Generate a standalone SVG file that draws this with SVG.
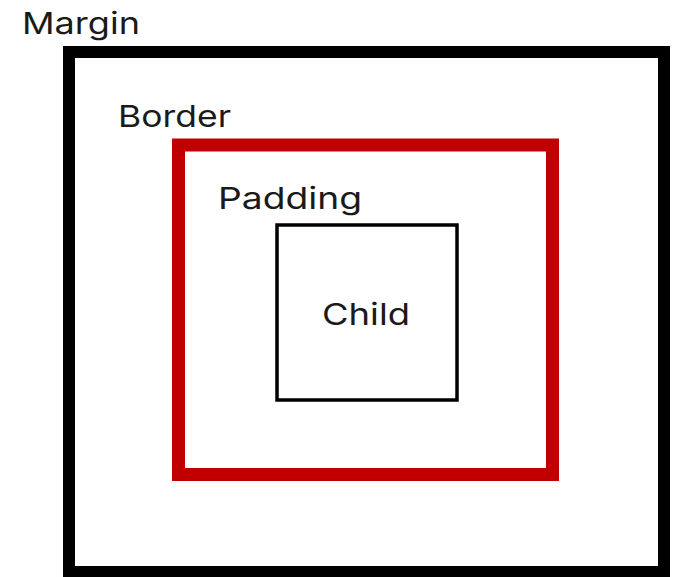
<svg xmlns="http://www.w3.org/2000/svg" width="677" height="577" viewBox="0 0 677 577">
<style>
text{font-family:Inter,"Open Sans","Liberation Sans",sans-serif;font-size:30px;fill:#1a1a1a}
</style>
<rect width="677" height="577" fill="#fff"/>
<g id="margin">
<rect x="69" y="52" width="595" height="520" fill="none" stroke="#000" stroke-width="12"/>
<text x="22" y="34" textLength="118" lengthAdjust="spacingAndGlyphs">Margin</text>
</g>
<g id="border">
<rect x="178.5" y="145" width="374" height="329.5" fill="none" stroke="#c00000" stroke-width="13"/>
<text x="118" y="127" textLength="113" lengthAdjust="spacingAndGlyphs">Border</text>
</g>
<g id="padding">
<text x="218" y="209" textLength="144" lengthAdjust="spacingAndGlyphs">Padding</text>
</g>
<g id="child">
<rect x="277" y="225" width="180" height="175" fill="none" stroke="#000" stroke-width="3.5"/>
<text x="322" y="325" textLength="88" lengthAdjust="spacingAndGlyphs">Child</text>
</g>
<g id="connectors"/>
</svg>
